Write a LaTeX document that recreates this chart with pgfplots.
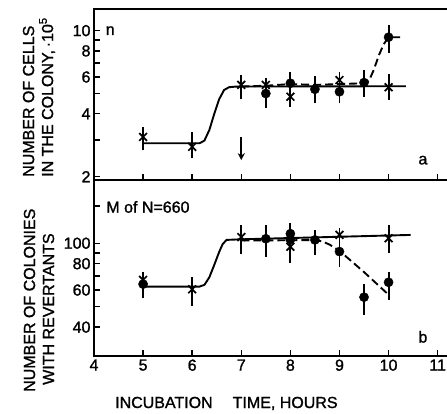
\documentclass[border=0pt]{standalone}
\usepackage{fontspec}
\setmainfont{Liberation Sans}[FakeBold=1.3]
\usepackage{pgfplots}
\pgfplotsset{compat=1.18}
\usetikzlibrary{arrows.meta}

\begin{document}
\begin{tikzpicture}[x=1pt,y=1pt,font=\fontsize{16}{19}\selectfont]
\useasboundingbox (0,0) rectangle (447,413);
\pgfplotsset{
  every axis/.append style={
    scale only axis,
    xmin=4, xmax=11.3,
    width=358.4pt,
    ymode=log,
    axis line style={line width=1.8pt},
    tick style={line width=1.4pt, black},
    major tick length=6pt, minor tick length=6pt,
    tick align=inside,
    xtick pos=bottom, ytick pos=left,
    xtick={4,5,6,7,8,9,10,11},
    /pgf/number format/assume math mode=true,
    ticklabel style={font=\fontsize{16}{19}\selectfont},
    unbounded coords=jump,
  },
  solidline/.style={black, line width=1.9pt, no marks},
  dashline/.style={black, line width=1.9pt, no marks, dash pattern=on 8pt off 4pt},
  ebar/.style={black, line width=1.9pt, no marks},
  crosses/.style={only marks, mark=x, mark size=5.5pt, black, mark options={line width=1.7pt}},
  dots/.style={only marks, mark=*, mark size=4.6pt, black},
}

% ---------------- top panel (a) ----------------
\begin{axis}[
  at={(94pt,233pt)}, anchor=south west,
  height=171pt,
  ymin=1.929, ymax=12.69,
  ytick={2,4,6,8,10}, yticklabels={2,4,6,8,10},
  minor ytick={3,5,7,9},
  xticklabels={},
]
% error bars
\addplot[ebar] coordinates {
  (5,2.68) (5,3.47) (5,nan)
  (6,2.45) (6,3.28) (6,nan)
  (7,4.69) (7,6.13) (7,nan)
  (7.5,4.25) (7.5,5.91) (7.5,nan)
  (8,4.30) (8,6.36) (8,nan)
  (8.5,4.49) (8.5,6.07) (8.5,nan)
  (9,4.49) (9,6.36) (9,nan)
  (9.5,4.83) (9.5,6.48) (9.5,nan)
  (10,7.8) (10,10.6) (10,nan)
  (10,4.66) (10,6.2)
};
% solid curve
\addplot[solidline] coordinates {
  (5,2.89) (6.15,2.89) (6.25,2.98) (6.35,3.35) (6.45,4.0) (6.55,4.7)
  (6.65,5.2) (6.75,5.36) (6.9,5.4) (10.35,5.42)
};
% dashed curve
\addplot[dashline] coordinates {
  (7,5.4) (7.5,5.45) (8,5.55) (8.5,5.5) (9,5.55) (9.5,5.6) (9.6,5.75)
  (9.7,6.5) (9.8,7.6) (9.9,8.6) (10,9.3) (10.3,9.3)
};
% crosses
\addplot[crosses] coordinates {
  (5,3.1) (6,2.78) (7,5.5) (7.5,5.5) (8,4.83) (9,5.8) (10,5.36)
};
% circles
\addplot[dots] coordinates {
  (7.5,5.0) (8,5.6) (8.5,5.24) (9,5.1) (9.5,5.64) (10,9.3)
};
\node[anchor=center] at (axis cs:4.33,10) {n};
\node[anchor=center] at (axis cs:10.7,2.4) {a};
\draw[black, line width=1.7pt, -{Stealth[length=7pt,width=7pt]}] (axis cs:7,3.1) -- (axis cs:7,2.4);
\end{axis}

% ---------------- bottom panel (b) ----------------
\begin{axis}[
  at={(94pt,57pt)}, anchor=south west,
  height=176pt,
  ymin=29.2, ymax=199.5,
  ytick={40,60,80,100}, yticklabels={40,60,80,100},
  minor ytick={50,70,90,150},
  xticklabels={4,5,6,7,8,9,10,11},
]
\addplot[ebar] coordinates {
  (5,54.8) (5,73.3) (5,nan)
  (6,50.5) (6,69) (6,nan)
  (7,89) (7,122) (7,nan)
  (7.5,86.4) (7.5,122) (7.5,nan)
  (8,81) (8,125) (8,nan)
  (8.5,88) (8.5,116) (8.5,nan)
  (9,77) (9,118) (9,nan)
  (9.5,45.7) (9.5,64) (9.5,nan)
  (10,54) (10,73.3) (10,nan)
  (10,89.6) (10,122)
};
\addplot[solidline] coordinates {
  (5,62.3) (6.15,62.3) (6.25,63.5) (6.35,69) (6.45,79) (6.55,91)
  (6.62,99) (6.7,103.7) (7,104.4) (10.45,109.5)
};
\addplot[dashline] coordinates {
  (7,103) (8.5,103.5) (8.65,102) (8.8,98.5) (9,92) (9.5,73) (10,57)
};
\addplot[crosses] coordinates {
  (5,67) (6,60.5) (7,107) (8,96.3) (9,109.5) (10,105.6)
};
\addplot[dots] coordinates {
  (5,64) (7.5,105) (8,111) (8,104) (8.5,103.7) (9,91.3) (9.5,55.5) (10,65.3)
};
\node[anchor=west] at (axis cs:4.18,148.6) {M of N=660};
\node[anchor=center] at (axis cs:10.7,36) {b};
\end{axis}

% axis titles
\node[rotate=90, anchor=west, align=left, inner sep=0pt] at (39,236)
  {NUMBER OF CELLS\\IN THE COLONY,\,·10\textsuperscript{5}};
\node[rotate=90, anchor=west, align=left, inner sep=0pt] at (39,21)
  {NUMBER OF COLONIES\\\hspace*{7pt}WITH REVERTANTS};
\node[anchor=base west, inner sep=0pt] at (115,5)
  {INCUBATION\hspace{20pt}TIME, HOURS};
\end{tikzpicture}
\end{document}
